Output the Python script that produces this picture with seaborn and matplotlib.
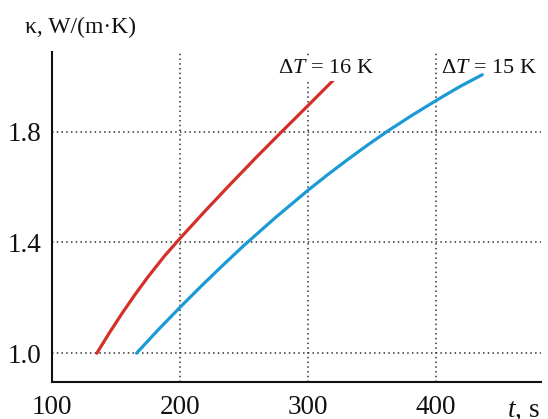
import numpy as np
import pandas as pd
import matplotlib
matplotlib.use("Agg")
import matplotlib.pyplot as plt
from matplotlib.ticker import FixedLocator
import seaborn as sns

# ---- data ----
t_16 = [135, 145, 155, 165, 175, 188, 200, 220, 240, 260, 280, 300, 322]
k_16 = [1.00, 1.075, 1.146, 1.213, 1.276, 1.352, 1.415, 1.516, 1.614, 1.710,
        1.803, 1.895, 1.997]
t_15 = [166, 183, 200, 216, 233, 250, 275, 300, 315, 331, 347, 363, 381, 400,
        418, 436]
k_15 = [1.00, 1.085, 1.166, 1.240, 1.316, 1.390, 1.492, 1.589, 1.644, 1.700,
        1.754, 1.805, 1.859, 1.913, 1.962, 2.006]
series_labels = ["ΔT = 16 K", "ΔT = 15 K"]
x_major = [100, 200, 300, 400]
x_minor = [150, 250, 350, 450]
y_major = [1.0, 1.4, 1.8]
y_minor = [1.2, 1.6, 2.0]
y_major_labels = ["1.0", "1.4", "1.8"]

df = pd.concat([
    pd.DataFrame({"t": t_16, "k": k_16, "dT": series_labels[0]}),
    pd.DataFrame({"t": t_15, "k": k_15, "dT": series_labels[1]}),
], ignore_index=True)

sns.set_style("white")
plt.rcParams["font.family"] = ["Liberation Serif", "DejaVu Serif"]
plt.rcParams["mathtext.fontset"] = "custom"
plt.rcParams["mathtext.rm"] = "Liberation Serif"
plt.rcParams["mathtext.it"] = "Liberation Serif:italic"

W, H = 548, 419
fig = plt.figure(figsize=(W / 100, H / 100), dpi=100)
ax = fig.add_axes([52 / W, 1 - 382 / H, (541 - 52) / W, (382 - 52) / H])

sns.lineplot(data=df, x="t", y="k", hue="dT", palette=["#d3302a", "#1c9ad6"],
             sort=False, legend=False, linewidth=2.3, ax=ax, estimator=None)

ax.set_xlim(100, 481.8)
ax.set_ylim(0.896, 2.088)
ax.xaxis.set_major_locator(FixedLocator(x_major))
ax.xaxis.set_minor_locator(FixedLocator(x_minor))
ax.yaxis.set_major_locator(FixedLocator(y_major))
ax.yaxis.set_minor_locator(FixedLocator(y_minor))
ax.set_yticklabels(y_major_labels)
ax.set_xlabel("")
ax.set_ylabel("")

for s in ["top", "right"]:
    ax.spines[s].set_visible(False)
for s in ["left", "bottom"]:
    ax.spines[s].set_linewidth(1.5)
    ax.spines[s].set_color("#111111")

ax.tick_params(axis="both", which="major", labelsize=19.5, colors="#111111",
               width=1.5, length=6.5, direction="out", pad=0.9)
ax.tick_params(axis="x", which="major", direction="inout", length=9, pad=5)
ax.tick_params(axis="both", which="minor", width=1.5, length=3, direction="out",
               colors="#111111")

ax.grid(True, which="major", linestyle=(0, (1, 2.1)), linewidth=1.1, color="#333333")
ax.set_axisbelow(True)

fig.text(25 / W, 1 - 33 / H, "κ, W/(m·K)", fontsize=17, va="baseline", ha="left",
         color="#111111")
fig.text(278 / W, 1 - 73 / H, r"Δ$T$ = 16 K", fontsize=16, va="baseline", ha="left",
         color="#111111", bbox=dict(facecolor="white", edgecolor="none", pad=2))
fig.text(441 / W, 1 - 73 / H, r"Δ$T$ = 15 K", fontsize=16, va="baseline", ha="left",
         color="#111111")
fig.text(507 / W, 1 - 417 / H, r"$t$, s", fontsize=19.5, va="baseline", ha="left",
         color="#111111")

fig.savefig("out.png", dpi=100)
